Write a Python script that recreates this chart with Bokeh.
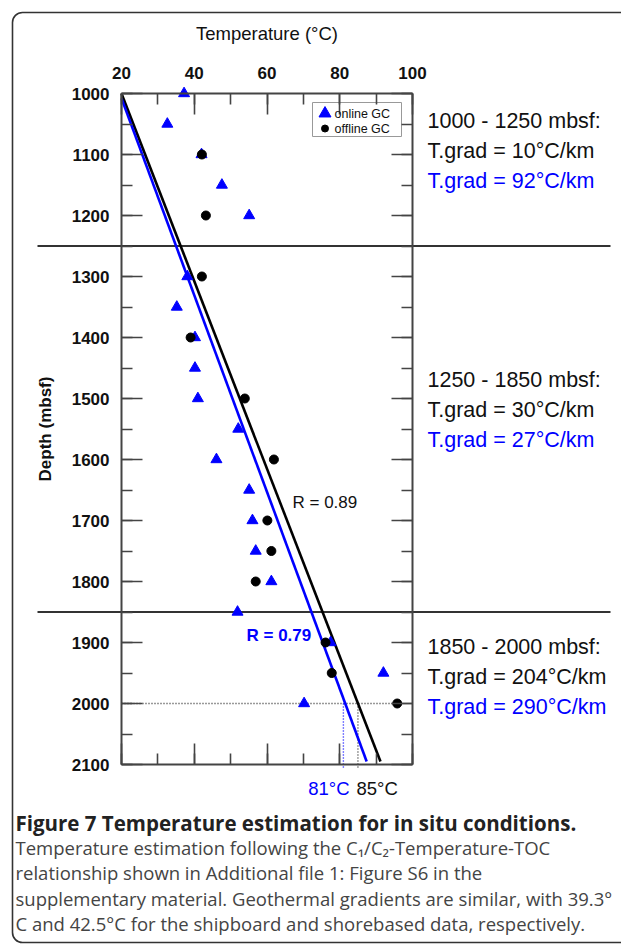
from bokeh.plotting import figure
from bokeh.models import (Range1d, LinearAxis, SingleIntervalTicker, CustomJSTickFormatter,
                          Label, BoxAnnotation)
from bokeh.embed import file_html
from bokeh.resources import INLINE

# --- data -----------------------------------------------------------------
# temperature estimates (°C) against depth (mbsf)
online_depth = [1000, 1050, 1100, 1150, 1200, 1300, 1350, 1400, 1450, 1500,
                1550, 1600, 1650, 1700, 1750, 1800, 1850, 1900, 1950, 2000]
online_temp = [37.2, 32.6, 42.0, 47.6, 55.1, 38.1, 35.2, 40.2, 40.2, 41.0,
               52.1, 46.1, 55.1, 56.0, 56.9, 61.2, 51.9, 77.5, 92.0, 70.2]
offline_depth = [1100, 1200, 1300, 1400, 1500, 1600, 1700, 1750, 1800, 1900, 1950, 2000]
offline_temp = [42.1, 43.2, 42.1, 39.0, 53.9, 61.9, 60.1, 61.2, 56.9, 76.1, 77.8, 95.8]

# linear trends (end points)
offline_fit_depth = [1000, 2095]
offline_fit_temp = [20.0, 91.2]
online_fit_depth = [1008, 2095]
online_fit_temp = [20.0, 87.4]
r_offline = 0.89
r_online = 0.79

# in situ estimate at the bottom depth
target_depth = 2000
insitu_online = 81
insitu_offline = 85

# depth intervals and their geothermal gradients (°C/km)
interval_bounds = [1250, 1850]
interval_names = ["1000 - 1250 mbsf:", "1250 - 1850 mbsf:", "1850 - 2000 mbsf:"]
grad_offline = [10, 30, 204]
grad_online = [92, 27, 290]

legend_names = ["online GC", "offline GC"]

caption_title = "Figure 7 Temperature estimation for in situ conditions."
caption_lines = [
    "Temperature estimation following the C\u2081/C\u2082-Temperature-TOC",
    "relationship shown in Additional file 1: Figure S6 in the",
    "supplementary material. Geothermal gradients are similar, with 39.3°",
    "C and 42.5°C for the shipboard and shorebased data, respectively.",
]

# --- layout helpers -------------------------------------------------------
W, H = 621, 946
FL, FT, FR, FB = 121, 93, 412, 764          # chart box edges on the canvas
T0, T1, D0, D1 = 20, 100, 1000, 2100


def tx(px):
    """canvas x (px) -> temperature"""
    return T0 + (px - FL) * (T1 - T0) / (FR - FL)


def dy(py):
    """canvas y (px) -> depth"""
    return D0 + (py - FT) * (D1 - D0) / (FB - FT)


BLUE = "#0000ff"
INK = "#111111"
FRAME = "#444444"
CHART_FONT = "Liberation Sans"
CAP_FONT = "Open Sans"

# the drawing area spans the whole page; the chart box is made of four axes
p = figure(width=W, height=H,
           x_range=Range1d(tx(0), tx(W)), y_range=Range1d(dy(H), dy(0)),
           x_axis_location=None, y_axis_location=None,
           output_backend="svg", toolbar_location=None,
           min_border=0, min_border_left=0, min_border_right=0,
           min_border_top=0, min_border_bottom=0)
p.xgrid.visible = False
p.ygrid.visible = False
p.outline_line_color = None
p.background_fill_color = "white"
p.border_fill_color = "white"

x_ticker = SingleIntervalTicker(interval=20, num_minor_ticks=2)
y_ticker = SingleIntervalTicker(interval=100, num_minor_ticks=2)
blank = CustomJSTickFormatter(code="return ''")

top = LinearAxis(ticker=x_ticker, fixed_location=D0, bounds=(T0, T1))
bottom = LinearAxis(ticker=x_ticker, fixed_location=D1, bounds=(T0, T1), formatter=blank)
left = LinearAxis(ticker=y_ticker, fixed_location=T0, bounds=(D0, D1))
right = LinearAxis(ticker=y_ticker, fixed_location=T1, bounds=(D0, D1), formatter=blank)
p.add_layout(top, "above")
p.add_layout(bottom, "below")
p.add_layout(left, "left")
p.add_layout(right, "right")

for ax in (top, bottom, left, right):
    ax.axis_line_color = FRAME
    ax.axis_line_width = 2
    ax.major_tick_line_color = FRAME
    ax.minor_tick_line_color = FRAME
    ax.major_tick_line_width = 1.6
    ax.minor_tick_line_width = 1.6
    ax.major_tick_in = 21
    ax.major_tick_out = 0
    ax.minor_tick_in = 11
    ax.minor_tick_out = 0
    ax.major_label_text_font = CHART_FONT
    ax.major_label_text_font_style = "bold"
    ax.major_label_text_font_size = "17px"
    ax.major_label_text_color = INK

top.axis_label = "Temperature (°C)"
top.axis_label_text_font = CHART_FONT
top.axis_label_text_font_style = "normal"
top.axis_label_text_font_size = "18.5px"
top.axis_label_text_color = INK
top.major_label_standoff = 15
top.axis_label_standoff = 20

left.axis_label = "Depth (mbsf)"
left.axis_label_text_font = CHART_FONT
left.axis_label_text_font_style = "bold"
left.axis_label_text_font_size = "17px"
left.axis_label_text_color = INK
left.major_label_standoff = 12
left.axis_label_standoff = 14

# rounded panel border
p.add_layout(BoxAnnotation(left=tx(12), right=tx(640), top=dy(12), bottom=dy(942),
                           fill_alpha=0, line_color="#333333", line_alpha=1,
                           line_width=1.6, border_radius=10, level="underlay"))

# interval boundaries across the figure width
for d in interval_bounds:
    p.line(x=[tx(37), tx(610)], y=[d, d], line_color="#333333", line_width=2)

# reference depth and in situ estimates
p.line(x=[T0, offline_temp[-1]], y=[target_depth, target_depth],
       line_color="#333333", line_width=1.4, line_dash="1 2")
p.line(x=[insitu_online, insitu_online], y=[target_depth, dy(768)],
       line_color=BLUE, line_width=1.4, line_dash="1 2")
p.line(x=[insitu_offline, insitu_offline], y=[target_depth, dy(768)],
       line_color="#333333", line_width=1.4, line_dash="1 2")

# trend lines
p.line(x=offline_fit_temp, y=offline_fit_depth, line_color="black", line_width=2.6)
p.line(x=online_fit_temp, y=online_fit_depth, line_color=BLUE, line_width=2.6)

# measurements
p.scatter(x=online_temp, y=online_depth, marker="triangle", size=11,
          fill_color=BLUE, line_color=BLUE)
p.scatter(x=offline_temp, y=offline_depth, marker="circle", size=9,
          fill_color="black", line_color="black")

# legend box (top right of the chart)
p.add_layout(BoxAnnotation(left=tx(312), right=tx(401), top=dy(102), bottom=dy(136),
                           fill_color="white", fill_alpha=1,
                           line_color="#999999", line_alpha=1, line_width=1,
                           level="underlay"))
p.scatter(x=[tx(324.5)], y=[dy(113)], marker="triangle", size=12,
          fill_color=BLUE, line_color=BLUE)
p.scatter(x=[tx(324.5)], y=[dy(128)], marker="circle", size=7,
          fill_color="black", line_color="black")
for name, py in zip(legend_names, [113, 128]):
    p.add_layout(Label(x=tx(334), y=dy(py), text=name, text_font=CHART_FONT,
                       text_font_size="12.5px", text_color=INK,
                       text_baseline="middle", text_align="left"))

# correlation labels
p.add_layout(Label(x=tx(292), y=dy(502), text=f"R = {r_offline:.2f}",
                   text_font=CHART_FONT, text_font_size="17px", text_color=INK,
                   text_baseline="middle", text_align="left"))
p.add_layout(Label(x=tx(246), y=dy(635), text=f"R = {r_online:.2f}",
                   text_font=CHART_FONT, text_font_size="17px", text_color=BLUE,
                   text_font_style="bold", text_baseline="middle", text_align="left"))

# in situ temperature labels under the chart
p.add_layout(Label(x=tx(349), y=dy(788), text=f"{insitu_online}°C",
                   text_font=CHART_FONT, text_font_size="18.5px", text_color=BLUE,
                   text_baseline="middle", text_align="right"))
p.add_layout(Label(x=tx(356), y=dy(788), text=f"{insitu_offline}°C",
                   text_font=CHART_FONT, text_font_size="18.5px", text_color=INK,
                   text_baseline="middle", text_align="left"))

# gradient summaries to the right of the chart
block_tops = [120, 379, 646]
for name, g_off, g_on, y0 in zip(interval_names, grad_offline, grad_online, block_tops):
    for i, (txt, col) in enumerate([(name, INK),
                                    (f"T.grad = {g_off}°C/km", INK),
                                    (f"T.grad = {g_on}°C/km", BLUE)]):
        p.add_layout(Label(x=tx(427), y=dy(y0 + 30 * i), text=txt,
                           text_font=CHART_FONT, text_font_size="21.5px",
                           text_color=col, text_baseline="middle", text_align="left"))

# caption
p.add_layout(Label(x=tx(15), y=dy(822), text=caption_title,
                   text_font=CAP_FONT, text_font_style="bold", text_font_size="20.5px",
                   text_color="#222222", text_baseline="middle", text_align="left"))
for i, line in enumerate(caption_lines):
    p.add_layout(Label(x=tx(15), y=dy(847 + 25.3 * i), text=line,
                       text_font=CAP_FONT, text_font_size="18.5px",
                       text_color="#444444", text_baseline="middle", text_align="left"))

open("out.html", "w").write(file_html(p, INLINE))
